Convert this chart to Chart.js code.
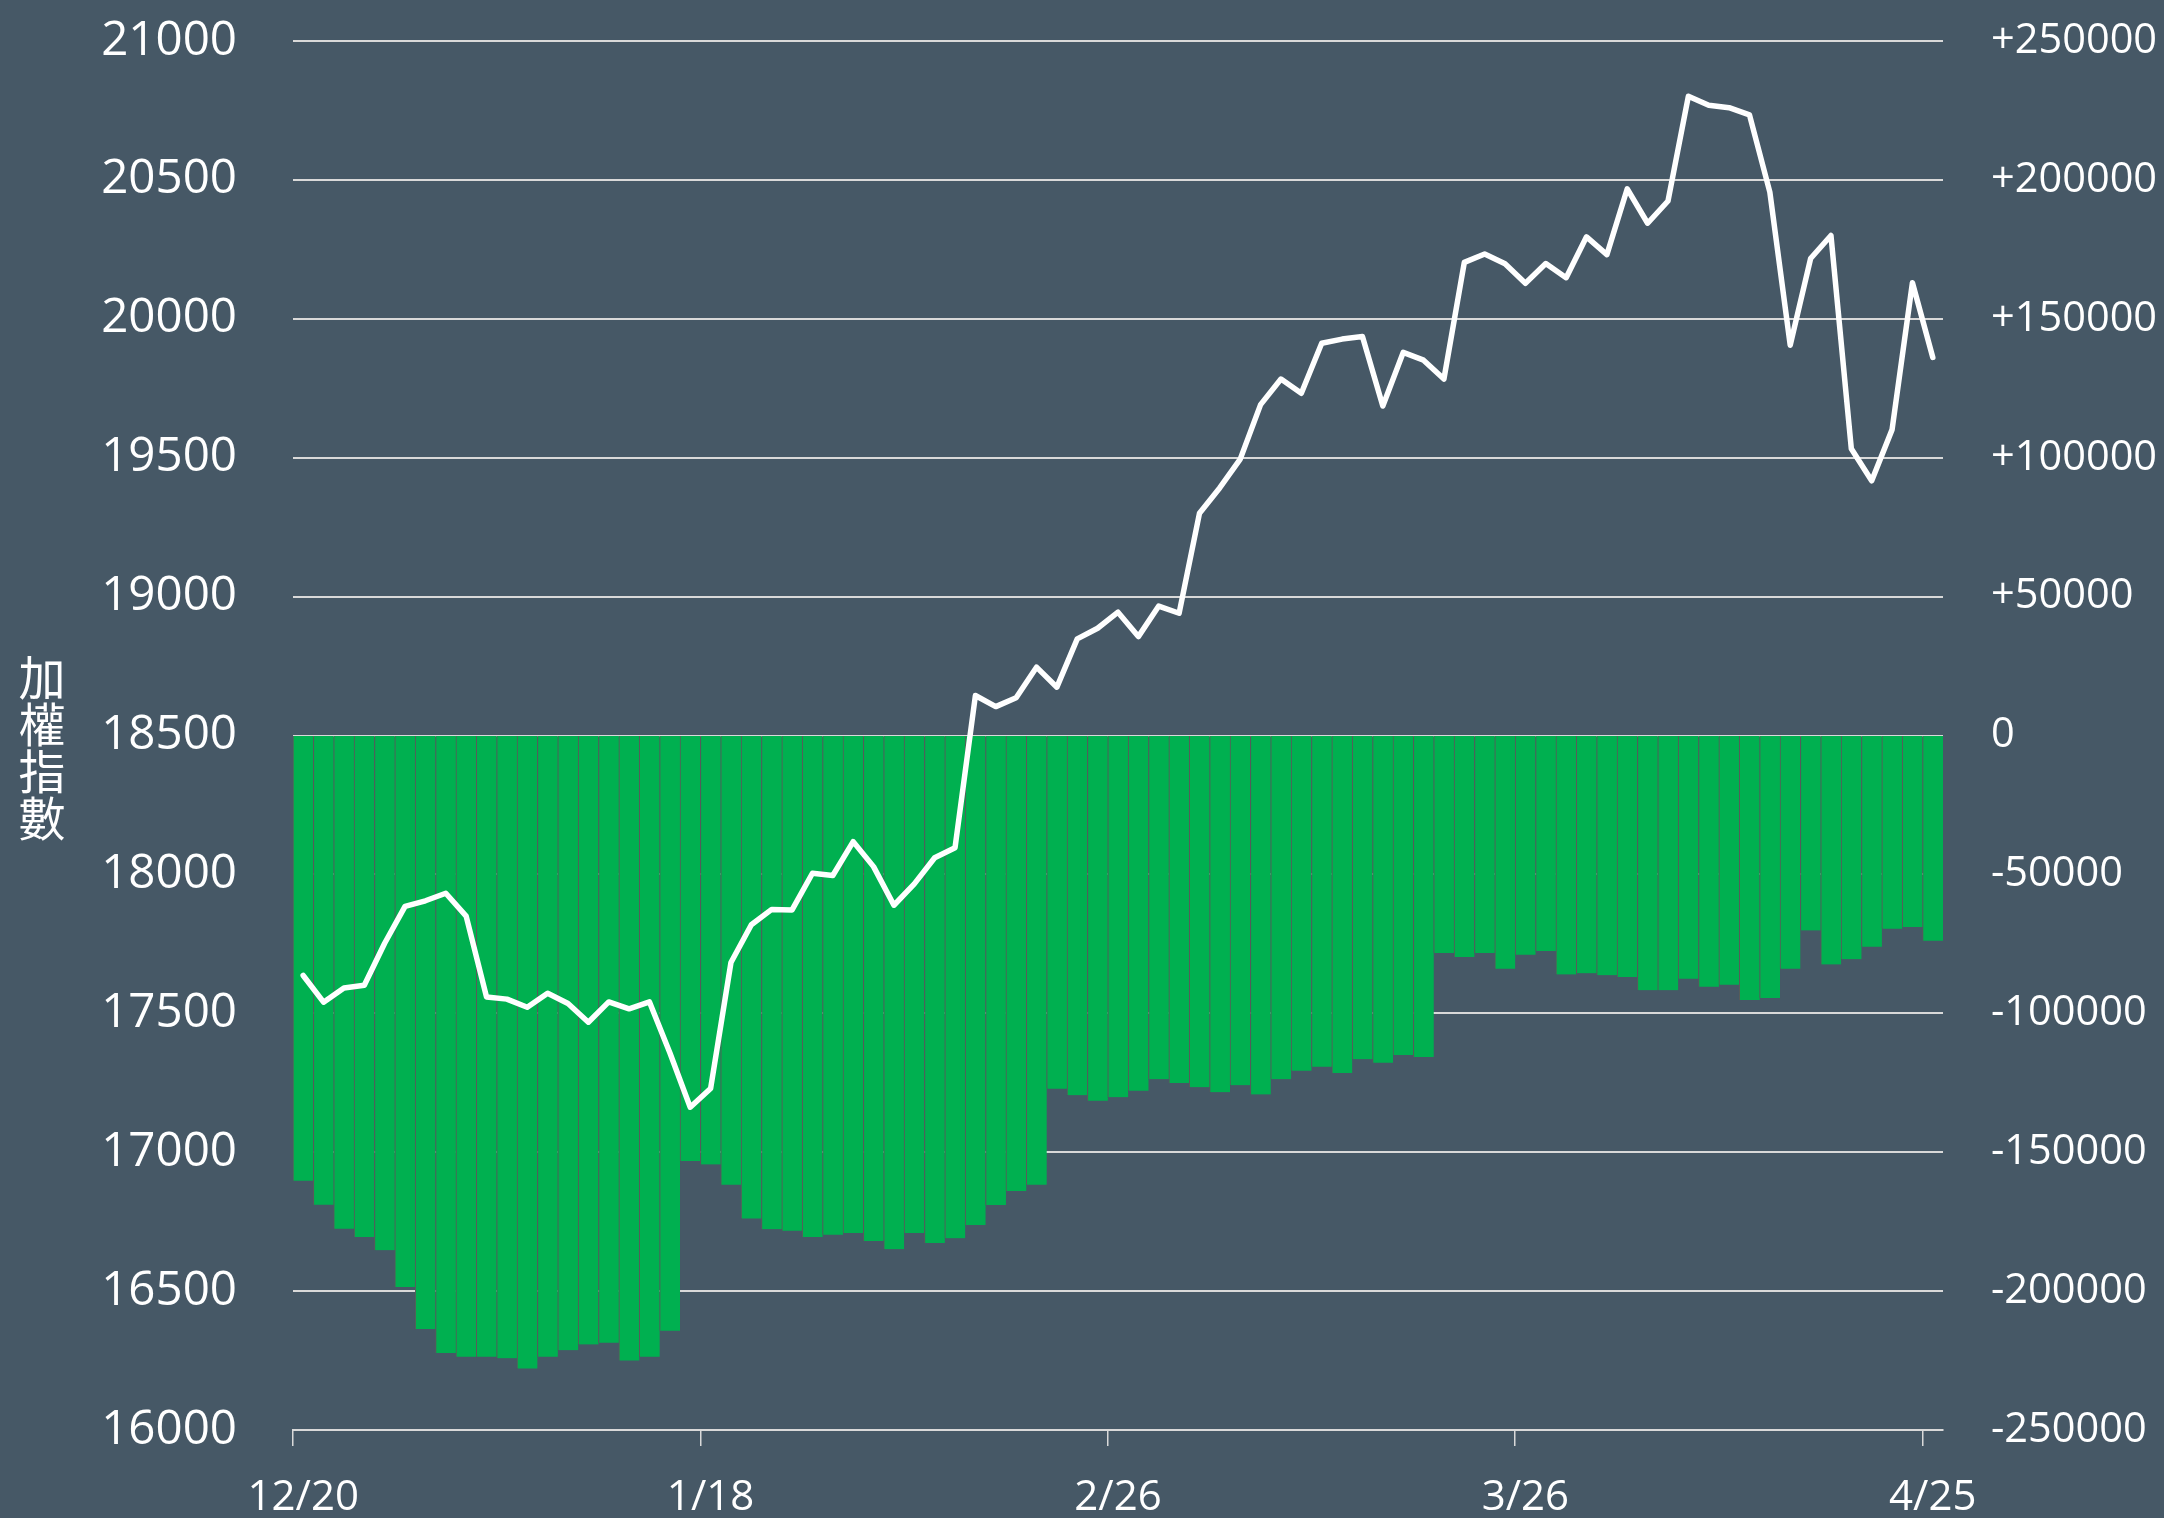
<!DOCTYPE html>
<html>
<head>
<meta charset="utf-8">
<script src="https://cdn.jsdelivr.net/npm/chart.js@4.4.1/dist/chart.umd.min.js"></script>
<style>
html,body{margin:0;padding:0;background:#465866;}
canvas{display:block;}
</style>
</head>
<body>
<canvas id="c" width="2164" height="1518"></canvas>
<script>
// ---- data ----
const dates = [
  '12/20','12/21','12/22','12/25','12/26','12/27','12/28','12/29',
  '1/2','1/3','1/4','1/5','1/8','1/9','1/10','1/11','1/12','1/15','1/16','1/17','1/18',
  '1/19','1/22','1/23','1/24','1/25','1/26','1/29','1/30','1/31','2/1','2/2','2/5','2/15','2/16','2/19','2/20','2/21','2/22','2/23','2/26',
  '2/27','2/29','3/1','3/4','3/5','3/6','3/7','3/8','3/11','3/12','3/13','3/14','3/15','3/18','3/19','3/20','3/21','3/22','3/25','3/26',
  '3/27','3/28','3/29','4/1','4/2','4/3','4/8','4/9','4/10','4/11','4/12','4/15','4/16','4/17','4/18','4/19','4/22','4/23','4/24','4/25'
];
const tickLabels = ['12/20','1/18','2/26','3/26','4/25'];
const indexValues = [
  17636,17540,17591,17601,17752,17885,17905,17932,
  17850,17559,17551,17522,17572,17535,17468,17541,17516,17541,17358,17162,17229,
  17683,17819,17874,17872,18004,17996,18118,18028,17889,17966,18060,18096,18644,18604,18636,18746,18674,18848,18886,18944,
  18856,18966,18940,19300,19392,19495,19691,19783,19732,19912,19927,19936,19686,19879,19851,19783,20203,20233,20198,20128,
  20199,20148,20295,20231,20468,20344,20424,20801,20769,20760,20734,20456,19905,20217,20300,19532,19417,19601,20130,19861
];
const netValues = [
  -160300,-168900,-177600,-180500,-185300,-198500,-213600,-222300,
  -223600,-223600,-224200,-227900,-223600,-221300,-219200,-218600,-225000,-223600,-214300,-153200,-154400,
  -161700,-173900,-177700,-178300,-180500,-179700,-179100,-182000,-184900,-179100,-182700,-181000,-176200,-169000,-164000,-161700,-127200,-129500,-131500,-130200,
  -127900,-123700,-125100,-126600,-128400,-125900,-129200,-123700,-120700,-119200,-121500,-116500,-117800,-115000,-115700,-78300,-79700,-78300,-84000,-78900,
  -77600,-86000,-85600,-86300,-86900,-91700,-91700,-87600,-90400,-89700,-95200,-94500,-84000,-70200,-82400,-80500,-76000,-69600,-68900,-73900
];
const leftTitle = ['加','權','指','數'];

// ---- styles ----
const BG = '#465866';
const TXT = '#FFFFFF';
const GRID = '#D9D9D9';
const FONT = "'Open Sans', 'Noto Sans', sans-serif";

const bgPlugin = {
  id: 'bg',
  beforeDraw(chart) {
    const c = chart.ctx;
    c.save();
    c.fillStyle = BG;
    c.fillRect(0, 0, chart.width, chart.height);
    c.restore();
  }
};

const titlePlugin = {
  id: 'vtitle',
  afterDraw(chart) {
    const c = chart.ctx;
    c.save();
    c.fillStyle = TXT;
    c.font = "47px 'Noto Sans CJK TC', 'Noto Sans CJK SC', sans-serif";
    c.textAlign = 'center';
    c.textBaseline = 'middle';
    const cy = 748;
    const pitch = 47;
    leftTitle.forEach((ch, i) => {
      c.fillText(ch, 42, cy + (i - (leftTitle.length - 1) / 2) * pitch);
    });
    c.restore();
  }
};

const noPadV = (s) => { s.paddingTop = 0; s.paddingBottom = 0; };

new Chart(document.getElementById('c'), {
  data: {
    labels: dates,
    datasets: [
      {
        type: 'line',
        label: '加權指數',
        data: indexValues,
        yAxisID: 'y',
        borderColor: '#FFFFFF',
        borderWidth: 5.5,
        pointRadius: 0,
        tension: 0,
        borderJoinStyle: 'round',
        borderCapStyle: 'round',
        order: 0
      },
      {
        type: 'bar',
        label: 'net',
        data: netValues,
        yAxisID: 'y1',
        backgroundColor: '#00B050',
        borderColor: '#5A5A5A',
        borderWidth: {left: 1, right: 0, top: 0, bottom: 0},
        borderSkipped: false,
        barPercentage: 1,
        categoryPercentage: 1,
        order: 1
      }
    ]
  },
  options: {
    responsive: false,
    animation: false,
    devicePixelRatio: 1,
    layout: {padding: {top: 41, left: 0, right: 0, bottom: 0}},
    plugins: {legend: {display: false}, tooltip: {enabled: false}},
    scales: {
      x: {
        type: 'category',
        offset: true,
        grid: {
          offset: true,
          drawOnChartArea: false,
          drawTicks: true,
          tickLength: 16,
          lineWidth: 1.5,
          color: (ctx) => (tickLabels.includes(dates[ctx.index]) ? GRID : 'rgba(0,0,0,0)')
        },
        border: {display: true, color: GRID, width: 2},
        ticks: {
          autoSkip: false,
          maxRotation: 0,
          minRotation: 0,
          padding: 27,
          color: TXT,
          font: {family: FONT, size: 42},
          callback: function (v) {
            const l = this.getLabelForValue(v);
            return tickLabels.includes(l) ? l : '';
          }
        },
        afterFit: (s) => { s.height = 88; s.paddingLeft = 0; s.paddingRight = 0; }
      },
      y: {
        position: 'left',
        min: 16000,
        max: 21000,
        grid: {color: GRID, lineWidth: 2, drawTicks: false},
        border: {display: false},
        ticks: {
          stepSize: 500,
          padding: 56,
          color: TXT,
          font: {family: FONT, size: 47.5},
          callback: (v) => String(v)
        },
        afterFit: (s) => { s.width = 293; noPadV(s); }
      },
      y1: {
        position: 'right',
        min: -250000,
        max: 250000,
        grid: {drawOnChartArea: false, drawTicks: false},
        border: {display: false},
        ticks: {
          stepSize: 50000,
          padding: 48,
          color: TXT,
          font: {family: FONT, size: 41.5},
          callback: (v) => (v > 0 ? '+' + v : String(v))
        },
        afterFit: (s) => { s.width = 221; noPadV(s); }
      }
    }
  },
  plugins: [bgPlugin, titlePlugin]
});
</script>
</body>
</html>
